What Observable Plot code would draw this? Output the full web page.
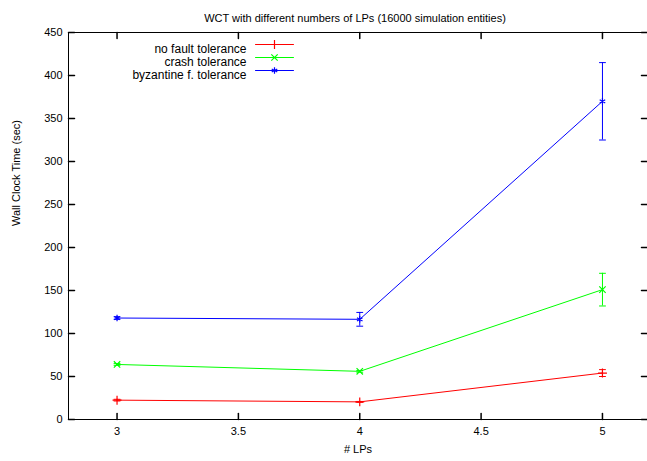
<!DOCTYPE html>
<html><head><meta charset="utf-8">
<script src="https://cdn.jsdelivr.net/npm/d3@7"></script>
<script src="https://cdn.jsdelivr.net/npm/@observablehq/plot@0.6"></script>
<style>body{margin:0;background:#fff;} svg{display:block;}</style>
</head><body><div id="chart"></div>
<script>
const title = "WCT with different numbers of LPs (16000 simulation entities)";
const xLabel = "# LPs";
const yLabel = "Wall Clock Time (sec)";
const lps = [3, 4, 5];
const seriesNames = ["no fault tolerance", "crash tolerance", "byzantine f. tolerance"];
const noFault = [22.5, 20.5, 54];
const noFaultErr = [1, 0.5, 4];
const crash = [64, 56, 151];
const crashErr = [1, 1, 19];
const byzantine = [118, 116.5, 370];
const byzantineErr = [1.5, 8, 45];
const xTicks = [3, 3.5, 4, 4.5, 5];
const yTicks = [0, 50, 100, 150, 200, 250, 300, 350, 400, 450];
const colors = ["#ff0000", "#00ff00", "#0000ff"];
const symbols = ["plus", "times", "asterisk"];

const values = [noFault, crash, byzantine];
const errs = [noFaultErr, crashErr, byzantineErr];
const rows = [];
seriesNames.forEach((s, i) => lps.forEach((x, j) => rows.push({
  series: s, idx: i, x, y: values[i][j], lo: values[i][j] - errs[i][j], hi: values[i][j] + errs[i][j]
})));

const lineShape = {draw(ctx, l) { ctx.moveTo(0, 0); ctx.lineTo(0, -l); }};
const font = "Liberation Sans, Arial, Helvetica, sans-serif";

const marks = [];
seriesNames.forEach((s, i) => {
  const d = rows.filter(r => r.idx === i);
  const c = colors[i];
  marks.push(Plot.line(d, {x: "x", y: "y", stroke: c, strokeWidth: 1}));
  marks.push(Plot.ruleX(d, {x: "x", y1: "lo", y2: "hi", stroke: c, strokeWidth: 1}));
  marks.push(Plot.vector(d, {x: "x", y: "lo", rotate: 90, length: 6, anchor: "middle", shape: lineShape, stroke: c, strokeWidth: 1}));
  marks.push(Plot.vector(d, {x: "x", y: "hi", rotate: 90, length: 6, anchor: "middle", shape: lineShape, stroke: c, strokeWidth: 1}));
  marks.push(Plot.dot(d, {x: "x", y: "y", symbol: symbols[i], r: 3, stroke: c, strokeWidth: 1.2}));
  const dy = 12 + 13 * i;
  marks.push(Plot.text([s], {text: d => d, frameAnchor: "top-left", dx: 178, dy, textAnchor: "end", fontSize: 12, fill: "black"}));
  marks.push(Plot.vector([s], {frameAnchor: "top-left", dx: 206, dy, rotate: 90, length: 38, anchor: "middle", shape: lineShape, stroke: c, strokeWidth: 1}));
  marks.push(Plot.dot([s], {frameAnchor: "top-left", dx: 206, dy, symbol: symbols[i], r: 3, stroke: c, strokeWidth: 1.2}));
});

marks.push(Plot.vector(xTicks, {x: d => d, frameAnchor: "bottom", rotate: 0, length: 6, anchor: "start", shape: lineShape, stroke: "black"}));
marks.push(Plot.vector(xTicks, {x: d => d, frameAnchor: "top", rotate: 180, length: 6, anchor: "start", shape: lineShape, stroke: "black"}));
marks.push(Plot.vector(yTicks, {y: d => d, frameAnchor: "left", rotate: 90, length: 6, anchor: "start", shape: lineShape, stroke: "black"}));
marks.push(Plot.vector(yTicks, {y: d => d, frameAnchor: "right", rotate: 270, length: 6, anchor: "start", shape: lineShape, stroke: "black"}));
marks.push(Plot.axisX(xTicks, {tickSize: 0, tickPadding: 8, fontSize: 11, label: null, tickFormat: d => String(d)}));
marks.push(Plot.axisY(yTicks, {tickSize: 0, tickPadding: 6, fontSize: 11, label: null, tickFormat: d => String(d)}));
marks.push(Plot.frame({stroke: "black", strokeWidth: 1}));
marks.push(Plot.text([title], {text: d => d, frameAnchor: "top", dx: -3, dy: -18, fontSize: 11}));
marks.push(Plot.text([xLabel], {text: d => d, frameAnchor: "bottom", dy: 33, fontSize: 11}));
marks.push(Plot.text([yLabel], {text: d => d, frameAnchor: "left", dx: -52, rotate: -90, fontSize: 11}));

const chart = Plot.plot({
  width: 647,
  height: 461,
  marginLeft: 68,
  marginRight: 0,
  marginTop: 32,
  marginBottom: 42,
  style: {fontFamily: font, background: "#fff", color: "black", overflow: "hidden"},
  x: {domain: [2.8, 5.2], range: [68, 650.5], label: null},
  y: {domain: [0, 450], range: [419, 32], label: null},
  marks
});
document.getElementById("chart").appendChild(chart);
</script>
</body></html>
